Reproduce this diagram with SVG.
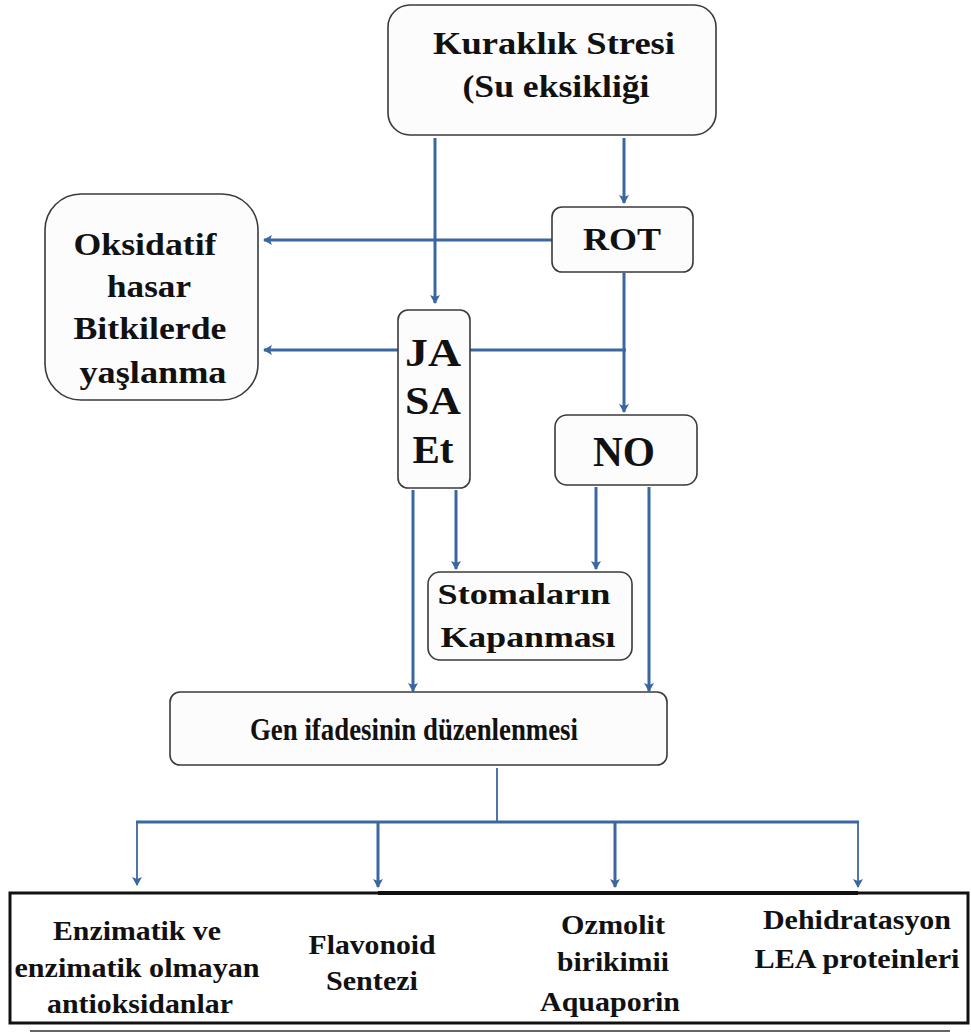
<svg xmlns="http://www.w3.org/2000/svg" width="971" height="1035" viewBox="0 0 971 1035">
<defs>
<style>
.box{fill:#fdfcfd;stroke:#3a3a3a;stroke-width:1.6}
.t{font-family:'Liberation Serif','Times New Roman','DejaVu Serif',serif;font-weight:bold;fill:#111;text-anchor:middle}
.c{fill:none;stroke:#3b67a0;stroke-width:3}
.cn{fill:none;stroke:#3b67a0;stroke-width:1.8}
</style>
<marker id="ah" markerWidth="10" markerHeight="10" refX="8" refY="5" orient="auto" markerUnits="userSpaceOnUse">
<path d="M0,0 L9,5 L0,10 L2,5 Z" fill="#3b67a0"/>
</marker>
</defs>
<rect width="971" height="1035" fill="#fff"/>
<g id="connectors">
<path class="c" d="M435,138 V303" marker-end="url(#ah)"/>
<path class="c" d="M624,138 V203" marker-end="url(#ah)"/>
<path class="c" d="M552,240 H264" marker-end="url(#ah)"/>
<path class="c" d="M398,350 H264" marker-end="url(#ah)"/>
<path class="c" d="M470,350 H626"/>
<path class="c" d="M624,273 V412" marker-end="url(#ah)"/>
<path class="c" d="M413,490 V691" marker-end="url(#ah)"/>
<path class="c" d="M456,490 V569" marker-end="url(#ah)"/>
<path class="c" d="M596,487 V569" marker-end="url(#ah)"/>
<path class="c" d="M649,487 V691" marker-end="url(#ah)"/>
<path class="cn" d="M497,768 V822"/>
<path class="c" d="M136,822 H859"/>
<path class="cn" d="M137,822 V885" marker-end="url(#ah)"/>
<path class="c" d="M378,822 V887" marker-end="url(#ah)"/>
<path class="c" d="M615,822 V887" marker-end="url(#ah)"/>
<path class="cn" d="M858,822 V887" marker-end="url(#ah)"/>
</g>
<g id="kuraklik">
<rect class="box" x="388" y="5" width="328" height="130" rx="22"/>
<text class="t" x="554" y="54" font-size="31" textLength="242" lengthAdjust="spacingAndGlyphs">Kuraklık Stresi</text>
<text class="t" x="556" y="97" font-size="31" textLength="187" lengthAdjust="spacingAndGlyphs">(Su eksikliği</text>
</g>
<g id="oksidatif">
<rect class="box" x="45" y="194" width="213" height="206" rx="36"/>
<text class="t" x="145" y="255" font-size="31" textLength="143" lengthAdjust="spacingAndGlyphs">Oksidatif</text>
<text class="t" x="149" y="297" font-size="31" textLength="84" lengthAdjust="spacingAndGlyphs">hasar</text>
<text class="t" x="150" y="339" font-size="31" textLength="153" lengthAdjust="spacingAndGlyphs">Bitkilerde</text>
<text class="t" x="153" y="383" font-size="31" textLength="147" lengthAdjust="spacingAndGlyphs">yaşlanma</text>
</g>
<g id="rot">
<rect class="box" x="552" y="207" width="141" height="65" rx="10"/>
<text class="t" x="622" y="250" font-size="31" textLength="78" lengthAdjust="spacingAndGlyphs">ROT</text>
</g>
<g id="jasaet">
<rect class="box" x="398" y="310" width="72" height="178" rx="10"/>
<text class="t" x="433" y="366" font-size="40" textLength="56" lengthAdjust="spacingAndGlyphs">JA</text>
<text class="t" x="433" y="414" font-size="40" textLength="56" lengthAdjust="spacingAndGlyphs">SA</text>
<text class="t" x="433" y="463" font-size="40" textLength="41" lengthAdjust="spacingAndGlyphs">Et</text>
</g>
<g id="no">
<rect class="box" x="555" y="415" width="142" height="70" rx="12"/>
<text class="t" x="624" y="466" font-size="42" textLength="62" lengthAdjust="spacingAndGlyphs">NO</text>
</g>
<g id="stomalarin">
<rect class="box" x="428" y="572" width="204" height="88" rx="12"/>
<text class="t" x="524" y="604" font-size="29" textLength="173" lengthAdjust="spacingAndGlyphs">Stomaların</text>
<text class="t" x="528" y="647" font-size="29" textLength="175" lengthAdjust="spacingAndGlyphs">Kapanması</text>
</g>
<g id="gen">
<rect class="box" x="170" y="692" width="497" height="73" rx="10"/>
<text class="t" x="414" y="740" font-size="31" textLength="328" lengthAdjust="spacingAndGlyphs">Gen ifadesinin düzenlenmesi</text>
</g>
<g id="outputs">
<rect x="10" y="893" width="958" height="130" fill="#fff" stroke="#111" stroke-width="3"/>
<line x1="378" y1="893" x2="858" y2="893" stroke="#111" stroke-width="4"/>
<line x1="30" y1="1031" x2="950" y2="1031" stroke="#333" stroke-width="1.5"/>
<text class="t" x="137" y="940" font-size="27" textLength="168" lengthAdjust="spacingAndGlyphs">Enzimatik ve</text>
<text class="t" x="137" y="977" font-size="27" textLength="245" lengthAdjust="spacingAndGlyphs">enzimatik olmayan</text>
<text class="t" x="140" y="1013" font-size="27" textLength="186" lengthAdjust="spacingAndGlyphs">antioksidanlar</text>
<text class="t" x="372" y="954" font-size="27" textLength="127" lengthAdjust="spacingAndGlyphs">Flavonoid</text>
<text class="t" x="372" y="990" font-size="27" textLength="92" lengthAdjust="spacingAndGlyphs">Sentezi</text>
<text class="t" x="613" y="934" font-size="27" textLength="104" lengthAdjust="spacingAndGlyphs">Ozmolit</text>
<text class="t" x="613" y="971" font-size="27" textLength="112" lengthAdjust="spacingAndGlyphs">birikimii</text>
<text class="t" x="610" y="1011" font-size="27" textLength="140" lengthAdjust="spacingAndGlyphs">Aquaporin</text>
<text class="t" x="857" y="929" font-size="27" textLength="188" lengthAdjust="spacingAndGlyphs">Dehidratasyon</text>
<text class="t" x="857" y="968" font-size="27" textLength="205" lengthAdjust="spacingAndGlyphs">LEA proteinleri</text>
</g>
</svg>
